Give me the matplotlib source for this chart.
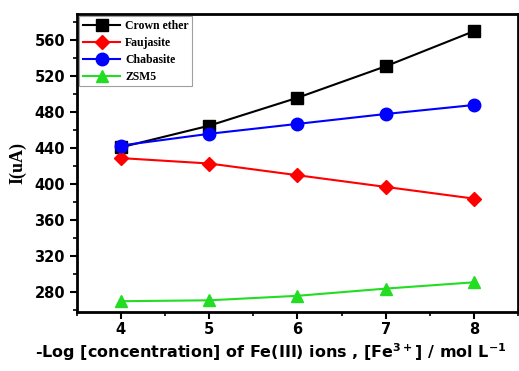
import matplotlib.pyplot as plt
from matplotlib.ticker import MultipleLocator

# data
conc = [4, 5, 6, 7, 8]
crown = [441, 465, 496, 531, 570]
faujasite = [429, 423, 410, 397, 384]
chabasite = [443, 456, 467, 478, 488]
zsm5 = [270, 271, 276, 284, 291]

fig = plt.figure(figsize=(5.19, 3.71), dpi=100)
ax = fig.add_axes([0.148, 0.159, 0.85, 0.803])

ax.plot(conc, crown, color='black', marker='s', markersize=8, lw=1.5, label='Crown ether')
ax.plot(conc, faujasite, color='red', marker='D', markersize=7, lw=1.5, label='Faujasite')
ax.plot(conc, chabasite, color='blue', marker='o', markersize=9, lw=1.5, label='Chabasite')
ax.plot(conc, zsm5, color='#22dd22', marker='^', markersize=9, lw=1.5, label='ZSM5')

ax.set_xlim(3.5, 8.5)
ax.set_ylim(258, 589)
ax.xaxis.set_major_locator(MultipleLocator(1))
ax.xaxis.set_minor_locator(MultipleLocator(0.5))
ax.yaxis.set_major_locator(MultipleLocator(40))
ax.yaxis.set_minor_locator(MultipleLocator(20))
ax.tick_params(which='major', direction='out', length=5, width=1.5)
ax.tick_params(which='minor', direction='out', length=3, width=1.2)
ax.tick_params(axis='x', pad=2)
for lab in ax.get_xticklabels() + ax.get_yticklabels():
    lab.set_fontfamily('DejaVu Sans')
    lab.set_fontweight('bold')
    lab.set_fontsize(10.5)
for s in ax.spines.values():
    s.set_linewidth(2)

ax.set_ylabel('I(uA)', fontfamily='Liberation Serif', fontweight='bold', fontsize=13, labelpad=6)
# x label sits a bit left of the axes centre in the reference
fig.text(0.522, 0.051, r'-Log [concentration] of Fe(III) ions , [Fe$^{\mathbf{3+}}$] / mol L$^{\mathbf{-1}}$',
         fontfamily='DejaVu Sans', fontweight='bold', fontsize=11.5, ha='center', va='center')

leg = ax.legend(loc='upper left', prop={'family': 'Liberation Serif', 'weight': 'bold', 'size': 8.5},
                frameon=True, fancybox=False, edgecolor='#888888', borderaxespad=0.2,
                handlelength=3.2, labelspacing=0.42, borderpad=0.3, handletextpad=0.4)
leg.get_frame().set_linewidth(0.8)

fig.savefig('out.png', dpi=100)
